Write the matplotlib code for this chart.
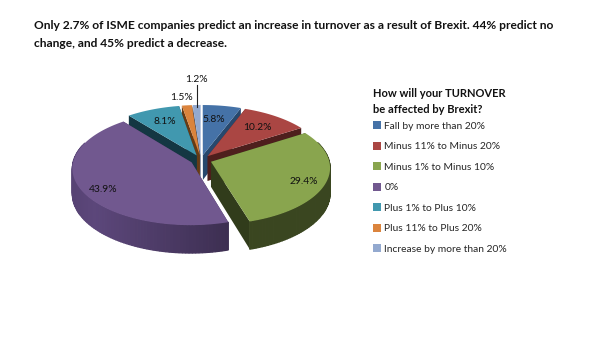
import numpy as np
import matplotlib
matplotlib.use("Agg")
import matplotlib.pyplot as plt
from matplotlib.patches import Polygon, Rectangle
from matplotlib.colors import to_rgb

categories = ["Fall by more than 20%", "Minus 11% to Minus 20%", "Minus 1% to Minus 10%", "0%",
              "Plus 1% to Plus 10%", "Plus 11% to Plus 20%", "Increase by more than 20%"]
values = [5.8, 10.2, 29.4, 43.9, 8.1, 1.5, 1.2]
top_colors = ["#4572A7", "#AA4643", "#89A54E", "#71588F", "#4198AF", "#DB843D", "#93A9CF"]
wall_colors = ["#2E5580", "#5C2422", "#3A4620", "#4E3C68", "#17414F", "#7A4518", "#5A6C90"]

title = ("Only 2.7% of ISME companies predict an increase in turnover as a result of Brexit. 44% predict no\n"
         "change, and 45% predict a decrease.")
legend_title = "How will your TURNOVER\nbe affected by Brexit?"

CX, CY, RX, RY, P, DEPTH, EXPL = 201, 160, 118, 56, 0.10, 25, 0.09
LABEL_XY = [(214, 119), (257, 128), (304, 181), (103, 189), (165, 122), (182, 98), (196, 79)]

plt.rcParams["font.family"] = ["Lato", "DejaVu Sans"]
fig = plt.figure(figsize=(6, 3.63), dpi=100)
ax = fig.add_axes([0, 0, 1, 1])
ax.set_xlim(0, 600)
ax.set_ylim(363, 0)
ax.axis("off")


def project(u, v, z=0.0):
    s = 1 / (1 + P * v)
    return CX + RX * u * s, CY - RY * v * s + z * DEPTH * s


total = sum(values)
fracs = np.array(values) / total
edges = np.concatenate([[0], np.cumsum(fracs)]) * 2 * np.pi
order = sorted(range(len(values)), key=lambda i: -np.cos((edges[i] + edges[i + 1]) / 2))


def shade(col, f):
    return tuple(min(1, c * f) for c in to_rgb(col))


for i in order:
    a0, a1 = edges[i], edges[i + 1]
    mid = (a0 + a1) / 2
    ox, oy = EXPL * np.sin(mid), EXPL * np.cos(mid)
    th = np.linspace(a0, a1, max(4, int((a1 - a0) * 40)))
    us, vs = ox + np.sin(th), oy + np.cos(th)
    z = 2 + order.index(i)

    # side walls from the apex to the rim
    for a in (a0, a1):
        ue, ve = ox + np.sin(a), oy + np.cos(a)
        pts = [project(ox, oy), project(ue, ve), project(ue, ve, 1), project(ox, oy, 1)]
        ax.add_patch(Polygon(pts, closed=True, fc=shade(wall_colors[i], 0.85), ec="none", zorder=z))

    # outer rim, in strips so that it carries a horizontal gradient
    for k in range(len(th) - 1):
        if np.cos((th[k] + th[k + 1]) / 2) > 0.35:
            continue
        pts = [project(us[k], vs[k]), project(us[k + 1], vs[k + 1]),
               project(us[k + 1], vs[k + 1], 1), project(us[k], vs[k], 1)]
        x_rel = (project(us[k], vs[k])[0] - CX) / RX
        f = 1.18 - 0.35 * abs(x_rel + 0.9) if i == 3 else 1.0
        c = shade(wall_colors[i], f)
        ax.add_patch(Polygon(pts, closed=True, fc=c, ec=c, lw=0.9, zorder=z))

    top = [project(ox, oy)] + [project(u, v) for u, v in zip(us, vs)]
    ax.add_patch(Polygon(top, closed=True, fc=top_colors[i], ec="none", zorder=z))

for v, (lx, ly) in zip(values, LABEL_XY):
    ax.text(lx, ly, f"{v}%", ha="center", va="center", fontsize=7.4, color="#111111", zorder=30)

ax.plot([196.5, 196.5], [85, 107], color="#222222", lw=0.8, zorder=30)

ax.text(34, 34.5, title, ha="left", va="center", fontsize=8.67, fontweight="bold", color="#111111", linespacing=1.7)

handles = [Rectangle((0, 0), 1, 1, fc=c, ec="none") for c in top_colors]
leg = ax.legend(handles, categories, loc="upper left", bbox_to_anchor=(373, 88), bbox_transform=ax.transData,
                frameon=False, fontsize=7.4, labelspacing=1.07, handlelength=0.8, handleheight=0.8,
                handletextpad=0.3, borderpad=0, borderaxespad=0, labelcolor="#262626",
                title=legend_title, alignment="left",
                title_fontproperties={"weight": "bold", "size": 8})
leg.get_title().set_linespacing(1.6)
leg.get_title().set_color("#111111")
leg._legend_box.sep = 4.3

fig.savefig("out.png", dpi=100, facecolor="white")
